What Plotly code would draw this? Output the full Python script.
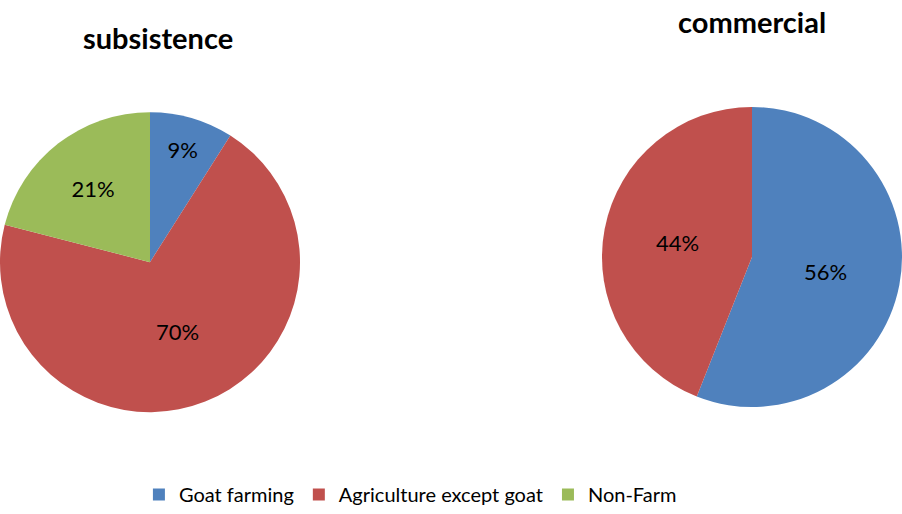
import plotly.graph_objects as go

# Income source shares by household type
categories = ["Goat farming", "Agriculture except goat", "Non-Farm"]
subsistence_values = [9, 70, 21]
commercial_labels = ["Goat farming", "Agriculture except goat"]
commercial_values = [56, 44]
panel_titles = ["subsistence", "commercial"]

colors = {
    "Goat farming": "#4F81BD",
    "Agriculture except goat": "#C0504D",
    "Non-Farm": "#9BBB59",
}

FONT = "Lato, Calibri, Arial, sans-serif"

fig = go.Figure()

fig.add_trace(go.Pie(
    labels=categories,
    values=subsistence_values,
    marker=dict(colors=[colors[c] for c in categories], line=dict(width=0)),
    sort=False,
    direction="clockwise",
    rotation=0,
    texttemplate="%{percent:.0%}",
    textposition="inside",
    insidetextorientation="horizontal",
    textfont=dict(family=FONT, size=22, color="black"),
    domain=dict(x=[0.0, 0.3326], y=[0.19, 0.79]),
    hoverinfo="label+percent",
))

fig.add_trace(go.Pie(
    labels=commercial_labels,
    values=commercial_values,
    marker=dict(colors=[colors[c] for c in commercial_labels], line=dict(width=0)),
    sort=False,
    direction="clockwise",
    rotation=0,
    texttemplate="%{percent:.0%}",
    textposition="inside",
    insidetextorientation="horizontal",
    textfont=dict(family=FONT, size=22, color="black"),
    domain=dict(x=[0.6674, 1.0], y=[0.19, 0.81]),
    hoverinfo="label+percent",
))

fig.update_layout(
    width=902,
    height=514,
    margin=dict(l=0, r=0, t=0, b=0),
    paper_bgcolor="white",
    plot_bgcolor="white",
    font=dict(family=FONT, color="black"),
    showlegend=True,
    legend=dict(
        orientation="h",
        x=0.455,
        xanchor="center",
        y=0.0,
        yanchor="bottom",
        font=dict(family=FONT, size=20, color="black"),
        itemwidth=30,
        traceorder="normal",
    ),
    annotations=[
        dict(text="<b>%s</b>" % panel_titles[0], x=158 / 902, y=1 - 38 / 514,
             xref="paper", yref="paper", showarrow=False,
             font=dict(family=FONT, size=29, color="black"),
             xanchor="center", yanchor="middle"),
        dict(text="<b>%s</b>" % panel_titles[1], x=752 / 902, y=1 - 22 / 514,
             xref="paper", yref="paper", showarrow=False,
             font=dict(family=FONT, size=29, color="black"),
             xanchor="center", yanchor="middle"),
    ],
)

fig.write_html("out.html")
